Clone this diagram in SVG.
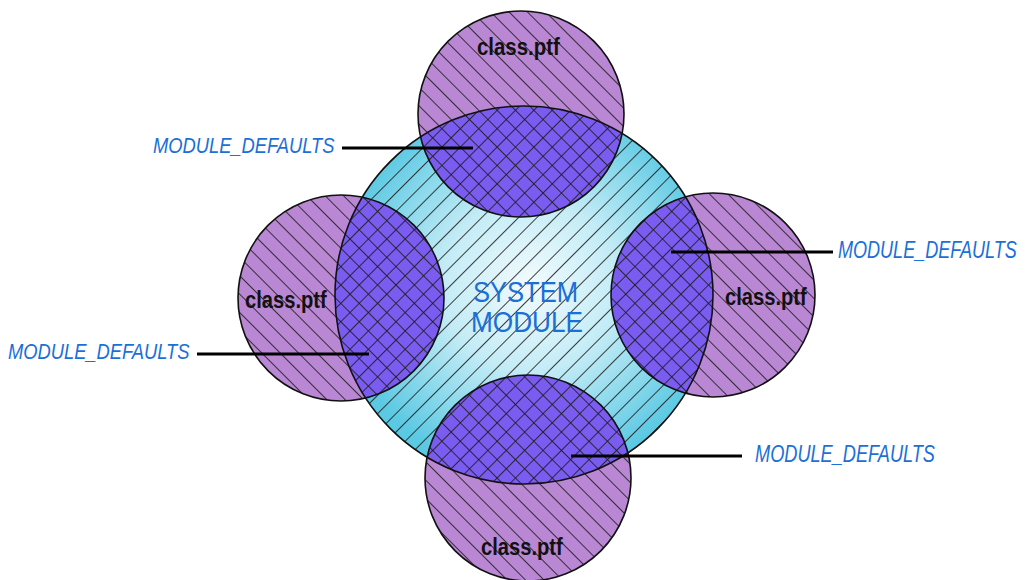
<svg xmlns="http://www.w3.org/2000/svg" width="1030" height="580" viewBox="0 0 1030 580">
  <style>
    .outline { fill: none; stroke: #111; stroke-width: 1.6; }
    .ptf { fill: #b987d3; }
    .overlap { fill: #7a5cf0; }
    .cls { font-family: "Liberation Sans", Arial, sans-serif; font-weight: bold; font-size: 24px; fill: #111; }
    .sys { font-family: "Liberation Sans", Arial, sans-serif; font-size: 30px; fill: #1a6fd8; }
    .lbl { font-family: "Liberation Sans", Arial, sans-serif; font-style: italic; font-size: 23px; fill: #1a6fd8; }
    .lead { stroke: #000; stroke-width: 3; fill: none; }
  </style>
  <defs>
    <radialGradient id="sysGrad" cx="530" cy="285" r="190" gradientUnits="userSpaceOnUse">
      <stop offset="0" stop-color="#f2fbfe"/>
      <stop offset="0.45" stop-color="#c4ecf6"/>
      <stop offset="1" stop-color="#5cc9e3"/>
    </radialGradient>
    <!-- rising hatch for the system module -->
    <pattern id="hatchUp" patternUnits="userSpaceOnUse" width="13" height="13" patternTransform="rotate(45)">
      <line x1="0.5" y1="-1" x2="0.5" y2="14" stroke="#1c1c1c" stroke-width="0.85"/>
    </pattern>
    <!-- falling hatch for the class.ptf files -->
    <pattern id="hatchDown" patternUnits="userSpaceOnUse" width="13" height="13" patternTransform="rotate(-45)">
      <line x1="0.5" y1="-1" x2="0.5" y2="14" stroke="#1c1c1c" stroke-width="0.85"/>
    </pattern>
    <clipPath id="sysClip">
      <circle cx="524" cy="295" r="189"/>
    </clipPath>
  </defs>

  <!-- system module -->
  <g id="system-module">
    <circle cx="524" cy="295" r="189" fill="url(#sysGrad)"/>
    <circle cx="524" cy="295" r="189" fill="url(#hatchUp)"/>
  </g>

  <!-- class.ptf files -->
  <g id="ptf-top">
    <circle class="ptf" cx="521" cy="114" r="103"/>
    <circle cx="521" cy="114" r="103" fill="url(#hatchDown)"/>
    <g clip-path="url(#sysClip)">
      <circle class="overlap" cx="521" cy="114" r="103"/>
      <circle cx="521" cy="114" r="103" fill="url(#hatchDown)"/>
      <circle cx="521" cy="114" r="103" fill="url(#hatchUp)"/>
    </g>
  </g>
  <g id="ptf-left">
    <circle class="ptf" cx="341" cy="298" r="103"/>
    <circle cx="341" cy="298" r="103" fill="url(#hatchDown)"/>
    <g clip-path="url(#sysClip)">
      <circle class="overlap" cx="341" cy="298" r="103"/>
      <circle cx="341" cy="298" r="103" fill="url(#hatchDown)"/>
      <circle cx="341" cy="298" r="103" fill="url(#hatchUp)"/>
    </g>
  </g>
  <g id="ptf-right">
    <circle class="ptf" cx="713" cy="295" r="102"/>
    <circle cx="713" cy="295" r="102" fill="url(#hatchDown)"/>
    <g clip-path="url(#sysClip)">
      <circle class="overlap" cx="713" cy="295" r="102"/>
      <circle cx="713" cy="295" r="102" fill="url(#hatchDown)"/>
      <circle cx="713" cy="295" r="102" fill="url(#hatchUp)"/>
    </g>
  </g>
  <g id="ptf-bottom">
    <circle class="ptf" cx="528" cy="478" r="103"/>
    <circle cx="528" cy="478" r="103" fill="url(#hatchDown)"/>
    <g clip-path="url(#sysClip)">
      <circle class="overlap" cx="528" cy="478" r="103"/>
      <circle cx="528" cy="478" r="103" fill="url(#hatchDown)"/>
      <circle cx="528" cy="478" r="103" fill="url(#hatchUp)"/>
    </g>
  </g>

  <!-- outlines drawn over all fills -->
  <g id="outlines">
    <circle class="outline" cx="524" cy="295" r="189"/>
    <circle class="outline" cx="521" cy="114" r="103"/>
    <circle class="outline" cx="341" cy="298" r="103"/>
    <circle class="outline" cx="713" cy="295" r="102"/>
    <circle class="outline" cx="528" cy="478" r="103"/>
  </g>

  <!-- texts: condensed by horizontal scaling -->
  <g id="texts">
    <text class="cls" transform="translate(477 55) scale(0.85 1)">class.ptf</text>
    <text class="cls" transform="translate(245 308) scale(0.84 1)">class.ptf</text>
    <text class="cls" transform="translate(725 305) scale(0.84 1)">class.ptf</text>
    <text class="cls" transform="translate(481 555) scale(0.84 1)">class.ptf</text>
    <text class="sys"><tspan x="473" y="302" textLength="105" lengthAdjust="spacingAndGlyphs">SYSTEM</tspan><tspan x="471" y="332" textLength="112" lengthAdjust="spacingAndGlyphs">MODULE</tspan></text>
  </g>

  <!-- leader lines -->
  <g id="connectors">
    <line class="lead" x1="342" y1="148" x2="473" y2="148"/>
    <line class="lead" x1="197" y1="354" x2="369" y2="354"/>
    <line class="lead" x1="671" y1="252" x2="833" y2="252"/>
    <line class="lead" x1="571" y1="456" x2="742" y2="456"/>
  </g>

  <g id="labels">
    <text class="lbl" transform="translate(153 153) scale(0.797 1)">MODULE_DEFAULTS</text>
    <text class="lbl" transform="translate(8 359) scale(0.797 1)">MODULE_DEFAULTS</text>
    <text class="lbl" transform="translate(838 258) scale(0.785 1)">MODULE_DEFAULTS</text>
    <text class="lbl" transform="translate(755 462) scale(0.79 1)">MODULE_DEFAULTS</text>
  </g>
</svg>
